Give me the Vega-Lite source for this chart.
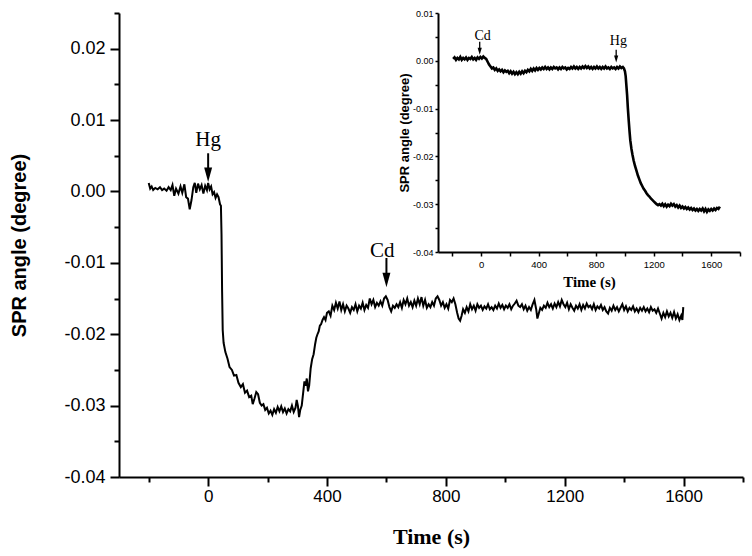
{
  "$schema": "https://vega.github.io/schema/vega-lite/v6.json",
  "width": 624,
  "height": 464,
  "autosize": {"type": "none"},
  "padding": {"left": 119, "top": 13, "right": 9, "bottom": 79},
  "background": "white",
  "config": {"view": {"stroke": null}},
  "datasets": {
    "main": [
      {"t":-200,"v":0.0012},{"t":-195,"v":0.0004},{"t":-190,"v":0.0007},{"t":-185,"v":0.0002},{"t":-178,"v":0.0005},{"t":-170,"v":0.0003},{"t":-162,"v":0.0006},{"t":-155,"v":0.0002},{"t":-148,"v":0.0004},{"t":-140,"v":0.0001},{"t":-133,"v":0.0006},{"t":-126,"v":0.0002},{"t":-120,"v":0.0009},{"t":-114,"v":-0.0006},{"t":-108,"v":0.0004},{"t":-100,"v":-0.0003},{"t":-93,"v":0.0007},{"t":-87,"v":-0.0002},{"t":-80,"v":0.0010},{"t":-74,"v":-0.0008},{"t":-68,"v":-0.0010},{"t":-62,"v":-0.0025},{"t":-56,"v":-0.0012},{"t":-50,"v":0.0006},{"t":-45,"v":0.0012},{"t":-40,"v":-0.0002},{"t":-34,"v":0.0011},{"t":-28,"v":0.0003},{"t":-22,"v":0.0009},{"t":-16,"v":-0.0003},{"t":-10,"v":0.0008},{"t":-4,"v":0.0002},{"t":0,"v":0.0012},{"t":5,"v":0.0003},{"t":10,"v":0.0007},{"t":15,"v":-0.0004},{"t":20,"v":-0.0001},{"t":25,"v":-0.0009},{"t":30,"v":-0.0004},{"t":35,"v":-0.0008},{"t":40,"v":-0.0018},{"t":43,"v":-0.0020},{"t":45,"v":-0.0060},{"t":47,"v":-0.0140},{"t":49,"v":-0.0194},{"t":52,"v":-0.0212},{"t":58,"v":-0.0225},{"t":65,"v":-0.0234},{"t":72,"v":-0.0246},{"t":80,"v":-0.0250},{"t":87,"v":-0.0258},{"t":95,"v":-0.0257},{"t":102,"v":-0.0268},{"t":110,"v":-0.0274},{"t":117,"v":-0.0270},{"t":124,"v":-0.0282},{"t":131,"v":-0.0279},{"t":138,"v":-0.0288},{"t":145,"v":-0.0286},{"t":150,"v":-0.0298},{"t":156,"v":-0.0290},{"t":162,"v":-0.0281},{"t":168,"v":-0.0284},{"t":174,"v":-0.0296},{"t":180,"v":-0.0300},{"t":186,"v":-0.0298},{"t":192,"v":-0.0306},{"t":198,"v":-0.0303},{"t":204,"v":-0.0311},{"t":210,"v":-0.0307},{"t":216,"v":-0.0313},{"t":222,"v":-0.0305},{"t":228,"v":-0.0310},{"t":234,"v":-0.0302},{"t":240,"v":-0.0308},{"t":246,"v":-0.0301},{"t":252,"v":-0.0309},{"t":258,"v":-0.0304},{"t":264,"v":-0.0311},{"t":270,"v":-0.0305},{"t":276,"v":-0.0308},{"t":282,"v":-0.0300},{"t":288,"v":-0.0309},{"t":294,"v":-0.0303},{"t":298,"v":-0.0292},{"t":302,"v":-0.0300},{"t":306,"v":-0.0316},{"t":310,"v":-0.0306},{"t":315,"v":-0.0300},{"t":320,"v":-0.0281},{"t":324,"v":-0.0266},{"t":328,"v":-0.0272},{"t":332,"v":-0.0262},{"t":336,"v":-0.0280},{"t":340,"v":-0.0272},{"t":345,"v":-0.0248},{"t":350,"v":-0.0235},{"t":355,"v":-0.0228},{"t":360,"v":-0.0214},{"t":364,"v":-0.0205},{"t":368,"v":-0.0200},{"t":372,"v":-0.0196},{"t":376,"v":-0.0188},{"t":380,"v":-0.0186},{"t":385,"v":-0.0180},{"t":390,"v":-0.0176},{"t":395,"v":-0.0180},{"t":400,"v":-0.0170},{"t":406,"v":-0.0168},{"t":412,"v":-0.0174},{"t":418,"v":-0.0160},{"t":424,"v":-0.0166},{"t":430,"v":-0.0156},{"t":436,"v":-0.0164},{"t":442,"v":-0.0154},{"t":448,"v":-0.0166},{"t":454,"v":-0.0158},{"t":460,"v":-0.0168},{"t":466,"v":-0.0160},{"t":472,"v":-0.0164},{"t":478,"v":-0.0170},{"t":484,"v":-0.0162},{"t":490,"v":-0.0166},{"t":496,"v":-0.0158},{"t":502,"v":-0.0168},{"t":508,"v":-0.0160},{"t":514,"v":-0.0164},{"t":520,"v":-0.0156},{"t":526,"v":-0.0166},{"t":532,"v":-0.0159},{"t":538,"v":-0.0163},{"t":544,"v":-0.0150},{"t":550,"v":-0.0158},{"t":556,"v":-0.0152},{"t":562,"v":-0.0162},{"t":568,"v":-0.0156},{"t":574,"v":-0.0160},{"t":580,"v":-0.0154},{"t":586,"v":-0.0160},{"t":592,"v":-0.0150},{"t":598,"v":-0.0147},{"t":604,"v":-0.0152},{"t":610,"v":-0.0162},{"t":616,"v":-0.0168},{"t":622,"v":-0.0160},{"t":628,"v":-0.0163},{"t":634,"v":-0.0158},{"t":640,"v":-0.0162},{"t":646,"v":-0.0155},{"t":652,"v":-0.0163},{"t":658,"v":-0.0152},{"t":664,"v":-0.0158},{"t":670,"v":-0.0150},{"t":676,"v":-0.0160},{"t":682,"v":-0.0155},{"t":688,"v":-0.0162},{"t":694,"v":-0.0153},{"t":700,"v":-0.0160},{"t":706,"v":-0.0150},{"t":712,"v":-0.0158},{"t":718,"v":-0.0148},{"t":724,"v":-0.0160},{"t":730,"v":-0.0152},{"t":736,"v":-0.0163},{"t":742,"v":-0.0158},{"t":748,"v":-0.0162},{"t":754,"v":-0.0155},{"t":760,"v":-0.0160},{"t":766,"v":-0.0150},{"t":772,"v":-0.0147},{"t":778,"v":-0.0152},{"t":784,"v":-0.0160},{"t":790,"v":-0.0155},{"t":796,"v":-0.0163},{"t":802,"v":-0.0158},{"t":808,"v":-0.0164},{"t":814,"v":-0.0152},{"t":820,"v":-0.0155},{"t":826,"v":-0.0150},{"t":832,"v":-0.0158},{"t":838,"v":-0.0170},{"t":843,"v":-0.0178},{"t":848,"v":-0.0181},{"t":853,"v":-0.0174},{"t":858,"v":-0.0165},{"t":864,"v":-0.0170},{"t":870,"v":-0.0162},{"t":876,"v":-0.0168},{"t":882,"v":-0.0158},{"t":888,"v":-0.0165},{"t":894,"v":-0.0160},{"t":900,"v":-0.0167},{"t":906,"v":-0.0158},{"t":912,"v":-0.0163},{"t":918,"v":-0.0160},{"t":924,"v":-0.0166},{"t":930,"v":-0.0161},{"t":936,"v":-0.0164},{"t":942,"v":-0.0158},{"t":948,"v":-0.0165},{"t":954,"v":-0.0162},{"t":960,"v":-0.0166},{"t":966,"v":-0.0160},{"t":972,"v":-0.0164},{"t":978,"v":-0.0157},{"t":984,"v":-0.0163},{"t":990,"v":-0.0159},{"t":996,"v":-0.0165},{"t":1002,"v":-0.0160},{"t":1008,"v":-0.0163},{"t":1014,"v":-0.0158},{"t":1020,"v":-0.0165},{"t":1026,"v":-0.0160},{"t":1032,"v":-0.0157},{"t":1038,"v":-0.0153},{"t":1044,"v":-0.0160},{"t":1050,"v":-0.0162},{"t":1056,"v":-0.0158},{"t":1062,"v":-0.0165},{"t":1068,"v":-0.0160},{"t":1074,"v":-0.0167},{"t":1080,"v":-0.0162},{"t":1086,"v":-0.0166},{"t":1092,"v":-0.0158},{"t":1098,"v":-0.0152},{"t":1104,"v":-0.0165},{"t":1108,"v":-0.0178},{"t":1112,"v":-0.0172},{"t":1118,"v":-0.0163},{"t":1124,"v":-0.0166},{"t":1130,"v":-0.0160},{"t":1136,"v":-0.0163},{"t":1142,"v":-0.0156},{"t":1148,"v":-0.0162},{"t":1154,"v":-0.0158},{"t":1160,"v":-0.0164},{"t":1166,"v":-0.0157},{"t":1172,"v":-0.0162},{"t":1178,"v":-0.0155},{"t":1184,"v":-0.0161},{"t":1190,"v":-0.0152},{"t":1196,"v":-0.0158},{"t":1202,"v":-0.0162},{"t":1208,"v":-0.0156},{"t":1214,"v":-0.0165},{"t":1220,"v":-0.0158},{"t":1226,"v":-0.0163},{"t":1232,"v":-0.0167},{"t":1238,"v":-0.0160},{"t":1244,"v":-0.0164},{"t":1250,"v":-0.0158},{"t":1256,"v":-0.0166},{"t":1262,"v":-0.0159},{"t":1268,"v":-0.0164},{"t":1274,"v":-0.0157},{"t":1280,"v":-0.0162},{"t":1286,"v":-0.0160},{"t":1292,"v":-0.0165},{"t":1298,"v":-0.0158},{"t":1304,"v":-0.0166},{"t":1310,"v":-0.0161},{"t":1316,"v":-0.0164},{"t":1322,"v":-0.0159},{"t":1328,"v":-0.0166},{"t":1334,"v":-0.0162},{"t":1340,"v":-0.0168},{"t":1346,"v":-0.0171},{"t":1352,"v":-0.0163},{"t":1358,"v":-0.0167},{"t":1364,"v":-0.0160},{"t":1370,"v":-0.0166},{"t":1376,"v":-0.0162},{"t":1382,"v":-0.0168},{"t":1388,"v":-0.0163},{"t":1394,"v":-0.0158},{"t":1400,"v":-0.0166},{"t":1406,"v":-0.0161},{"t":1412,"v":-0.0168},{"t":1418,"v":-0.0163},{"t":1424,"v":-0.0166},{"t":1430,"v":-0.0161},{"t":1436,"v":-0.0168},{"t":1442,"v":-0.0164},{"t":1448,"v":-0.0169},{"t":1454,"v":-0.0163},{"t":1460,"v":-0.0167},{"t":1466,"v":-0.0162},{"t":1472,"v":-0.0168},{"t":1478,"v":-0.0164},{"t":1484,"v":-0.0169},{"t":1490,"v":-0.0162},{"t":1496,"v":-0.0167},{"t":1502,"v":-0.0165},{"t":1508,"v":-0.0170},{"t":1514,"v":-0.0164},{"t":1520,"v":-0.0171},{"t":1526,"v":-0.0178},{"t":1532,"v":-0.0170},{"t":1538,"v":-0.0176},{"t":1544,"v":-0.0168},{"t":1550,"v":-0.0175},{"t":1556,"v":-0.0170},{"t":1562,"v":-0.0177},{"t":1568,"v":-0.0169},{"t":1574,"v":-0.0178},{"t":1580,"v":-0.0172},{"t":1586,"v":-0.0180},{"t":1592,"v":-0.0174},{"t":1596,"v":-0.0180},{"t":1599,"v":-0.0162}
    ],
    "inset": [
      {"t":-195,"v":0.0004},{"t":-185,"v":0.0007},{"t":-175,"v":0.0002},{"t":-165,"v":0.0006},{"t":-155,"v":0.0003},{"t":-145,"v":0.0008},{"t":-135,"v":0.0002},{"t":-125,"v":0.0006},{"t":-115,"v":0.0003},{"t":-105,"v":0.0007},{"t":-95,"v":0.0002},{"t":-85,"v":0.0006},{"t":-75,"v":0.0004},{"t":-65,"v":0.0008},{"t":-55,"v":0.0003},{"t":-45,"v":0.0006},{"t":-35,"v":0.0002},{"t":-25,"v":0.0007},{"t":-15,"v":0.0004},{"t":-5,"v":0.0008},{"t":5,"v":0.0005},{"t":15,"v":0.0009},{"t":25,"v":0.0006},{"t":35,"v":0.0004},{"t":45,"v":-0.0002},{"t":55,"v":-0.0008},{"t":65,"v":-0.0012},{"t":75,"v":-0.0016},{"t":85,"v":-0.0014},{"t":95,"v":-0.0019},{"t":105,"v":-0.0016},{"t":115,"v":-0.0021},{"t":125,"v":-0.0018},{"t":135,"v":-0.0022},{"t":145,"v":-0.0019},{"t":155,"v":-0.0024},{"t":165,"v":-0.0020},{"t":175,"v":-0.0023},{"t":185,"v":-0.0021},{"t":195,"v":-0.0026},{"t":205,"v":-0.0022},{"t":215,"v":-0.0027},{"t":225,"v":-0.0023},{"t":235,"v":-0.0028},{"t":245,"v":-0.0024},{"t":255,"v":-0.0028},{"t":265,"v":-0.0023},{"t":275,"v":-0.0027},{"t":285,"v":-0.0022},{"t":295,"v":-0.0026},{"t":305,"v":-0.0021},{"t":315,"v":-0.0024},{"t":325,"v":-0.0019},{"t":335,"v":-0.0022},{"t":345,"v":-0.0017},{"t":355,"v":-0.0021},{"t":365,"v":-0.0016},{"t":375,"v":-0.0020},{"t":385,"v":-0.0015},{"t":395,"v":-0.0019},{"t":405,"v":-0.0015},{"t":415,"v":-0.0018},{"t":425,"v":-0.0014},{"t":435,"v":-0.0017},{"t":445,"v":-0.0013},{"t":455,"v":-0.0017},{"t":465,"v":-0.0014},{"t":475,"v":-0.0018},{"t":485,"v":-0.0014},{"t":495,"v":-0.0017},{"t":505,"v":-0.0013},{"t":515,"v":-0.0016},{"t":525,"v":-0.0014},{"t":535,"v":-0.0018},{"t":545,"v":-0.0014},{"t":555,"v":-0.0017},{"t":565,"v":-0.0013},{"t":575,"v":-0.0016},{"t":585,"v":-0.0014},{"t":595,"v":-0.0018},{"t":605,"v":-0.0015},{"t":615,"v":-0.0017},{"t":625,"v":-0.0013},{"t":635,"v":-0.0016},{"t":645,"v":-0.0012},{"t":655,"v":-0.0016},{"t":665,"v":-0.0013},{"t":675,"v":-0.0017},{"t":685,"v":-0.0013},{"t":695,"v":-0.0016},{"t":705,"v":-0.0012},{"t":715,"v":-0.0015},{"t":725,"v":-0.0011},{"t":735,"v":-0.0015},{"t":745,"v":-0.0012},{"t":755,"v":-0.0016},{"t":765,"v":-0.0013},{"t":775,"v":-0.0017},{"t":785,"v":-0.0013},{"t":795,"v":-0.0016},{"t":805,"v":-0.0012},{"t":815,"v":-0.0016},{"t":825,"v":-0.0013},{"t":835,"v":-0.0017},{"t":845,"v":-0.0013},{"t":855,"v":-0.0016},{"t":865,"v":-0.0012},{"t":875,"v":-0.0016},{"t":885,"v":-0.0014},{"t":895,"v":-0.0017},{"t":905,"v":-0.0013},{"t":915,"v":-0.0016},{"t":925,"v":-0.0014},{"t":935,"v":-0.0017},{"t":945,"v":-0.0013},{"t":955,"v":-0.0016},{"t":965,"v":-0.0012},{"t":975,"v":-0.0015},{"t":985,"v":-0.0013},{"t":993,"v":-0.0016},{"t":1000,"v":-0.0022},{"t":1005,"v":-0.0032},{"t":1010,"v":-0.0052},{"t":1015,"v":-0.0072},{"t":1020,"v":-0.0098},{"t":1026,"v":-0.0124},{"t":1032,"v":-0.0148},{"t":1037,"v":-0.0166},{"t":1045,"v":-0.0184},{"t":1052,"v":-0.0196},{"t":1060,"v":-0.0208},{"t":1070,"v":-0.0220},{"t":1080,"v":-0.0230},{"t":1090,"v":-0.0240},{"t":1100,"v":-0.0248},{"t":1110,"v":-0.0256},{"t":1120,"v":-0.0262},{"t":1130,"v":-0.0268},{"t":1140,"v":-0.0272},{"t":1150,"v":-0.0277},{"t":1160,"v":-0.0281},{"t":1170,"v":-0.0284},{"t":1180,"v":-0.0288},{"t":1190,"v":-0.0291},{"t":1200,"v":-0.0294},{"t":1210,"v":-0.0297},{"t":1220,"v":-0.0300},{"t":1230,"v":-0.0302},{"t":1240,"v":-0.0300},{"t":1250,"v":-0.0303},{"t":1260,"v":-0.0299},{"t":1270,"v":-0.0304},{"t":1280,"v":-0.0300},{"t":1290,"v":-0.0305},{"t":1300,"v":-0.0301},{"t":1310,"v":-0.0304},{"t":1320,"v":-0.0299},{"t":1330,"v":-0.0303},{"t":1340,"v":-0.0300},{"t":1350,"v":-0.0305},{"t":1360,"v":-0.0302},{"t":1370,"v":-0.0307},{"t":1380,"v":-0.0303},{"t":1390,"v":-0.0308},{"t":1400,"v":-0.0305},{"t":1410,"v":-0.0309},{"t":1420,"v":-0.0306},{"t":1430,"v":-0.0310},{"t":1440,"v":-0.0307},{"t":1450,"v":-0.0311},{"t":1460,"v":-0.0308},{"t":1470,"v":-0.0312},{"t":1480,"v":-0.0309},{"t":1490,"v":-0.0313},{"t":1500,"v":-0.0310},{"t":1510,"v":-0.0314},{"t":1520,"v":-0.0310},{"t":1530,"v":-0.0313},{"t":1540,"v":-0.0309},{"t":1550,"v":-0.0315},{"t":1560,"v":-0.0310},{"t":1570,"v":-0.0316},{"t":1580,"v":-0.0311},{"t":1590,"v":-0.0314},{"t":1600,"v":-0.0310},{"t":1610,"v":-0.0313},{"t":1620,"v":-0.0309},{"t":1630,"v":-0.0312},{"t":1640,"v":-0.0308},{"t":1650,"v":-0.0310},{"t":1660,"v":-0.0305}
    ],
    "mainArrows": [{"t":0,"v":0.00535,"v2":0.0027},{"t":600,"v":-0.00932,"v2":-0.0120}],
    "mainHeads": [{"t":0,"v":0.00235},{"t":600,"v":-0.01239}],
    "mainTexts": [{"t":0,"v":0.00633,"label":"Hg"},{"t":586,"v":-0.00918,"label":"Cd"}],
    "insetArrows": [{"t":-10,"v":0.0040,"v2":0.0025},{"t":939,"v":0.0023,"v2":0.0010}],
    "insetHeads": [{"t":-10,"v":0.0020},{"t":939,"v":0.0004}],
    "insetTexts": [{"t":10,"v":0.0044,"label":"Cd"},{"t":954,"v":0.0034,"label":"Hg"}]
  },
  "layer": [
    {
      "encoding": {
        "x": {"field": "t", "type": "quantitative",
          "scale": {"domain": [-300, 1800], "nice": false, "zero": false},
          "axis": {"orient": "bottom", "values": [-200,0,200,400,600,800,1000,1200,1400,1600,1800], "format": "d",
            "labelExpr": "datum.value % 400 === 0 ? datum.label : ''",
            "tickSize": {"condition": {"test": "datum.value % 400 === 0", "value": 9}, "value": 5},
            "tickWidth": 2, "domainWidth": 2, "domainColor": "black", "tickColor": "black",
            "labelFont": "Liberation Sans", "labelFontSize": 17, "labelColor": "black", "labelPadding": 2,
            "grid": false, "title": "Time (s)", "titleFont": "Liberation Serif", "titleFontSize": 22,
            "titleFontWeight": "bold", "titleColor": "black", "titlePadding": 22}},
        "y": {"field": "v", "type": "quantitative",
          "scale": {"domain": [-0.04, 0.025], "nice": false, "zero": false},
          "axis": {"orient": "left", "values": [-0.04,-0.035,-0.03,-0.025,-0.02,-0.015,-0.01,-0.005,0,0.005,0.01,0.015,0.02,0.025],
            "labelExpr": "abs(datum.value*100 - round(datum.value*100)) < 0.01 ? replace(format(datum.value, '.2f'), '\u2212', '-') : ''",
            "tickSize": {"condition": {"test": "abs(datum.value*100 - round(datum.value*100)) < 0.01", "value": 9}, "value": 5},
            "tickWidth": 2, "domainWidth": 2, "domainColor": "black", "tickColor": "black",
            "labelFont": "Liberation Sans", "labelFontSize": 18, "labelColor": "black", "labelPadding": 5,
            "grid": false, "title": "SPR angle (degree)", "titleFont": "Liberation Sans", "titleFontSize": 20,
            "titleFontWeight": "bold", "titleColor": "black", "titlePadding": 34}}
      },
      "layer": [
        {"data": {"name": "main"}, "mark": {"type": "line", "color": "black", "strokeWidth": 2}},
        {"data": {"name": "mainArrows"}, "mark": {"type": "rule", "color": "black", "strokeWidth": 2}, "encoding": {"y2": {"field": "v2"}}},
        {"data": {"name": "mainHeads"}, "mark": {"type": "point", "shape": "M-0.55,-1L0.55,-1L0,1Z", "size": 210, "filled": true, "color": "black", "opacity": 1}},
        {"data": {"name": "mainTexts"}, "mark": {"type": "text", "font": "Liberation Serif", "fontSize": 21, "baseline": "alphabetic", "align": "center", "color": "black"}, "encoding": {"text": {"field": "label"}}}
      ]
    },
    {
      "encoding": {
        "x": {"field": "t", "type": "quantitative",
          "scale": {"domain": [-300, 1800], "nice": false, "zero": false, "range": [319, 621]},
          "axis": {"orient": "bottom", "offset": -225, "values": [-200,0,200,400,600,800,1000,1200,1400,1600,1800], "format": "d",
            "labelExpr": "datum.value % 400 === 0 ? datum.label : ''",
            "tickSize": 4, "tickWidth": 1.5, "domainWidth": 2, "domainColor": "black", "tickColor": "black",
            "labelFont": "Liberation Sans", "labelFontSize": 9.5, "labelColor": "black", "labelPadding": 3,
            "grid": false, "title": "Time (s)", "titleFont": "Liberation Serif", "titleFontSize": 15,
            "titleFontWeight": "bold", "titleColor": "black", "titlePadding": 6}},
        "y": {"field": "v", "type": "quantitative",
          "scale": {"domain": [-0.04, 0.01], "nice": false, "zero": false, "range": [239, 0]},
          "axis": {"orient": "left", "offset": -319, "values": [-0.04,-0.035,-0.03,-0.025,-0.02,-0.015,-0.01,-0.005,0,0.005,0.01],
            "labelExpr": "abs(datum.value*100 - round(datum.value*100)) < 0.01 ? replace(format(datum.value, '.2f'), '\u2212', '-') : ''",
            "tickSize": 3, "tickWidth": 1.5, "domainWidth": 2, "domainColor": "black", "tickColor": "black",
            "labelFont": "Liberation Sans", "labelFontSize": 9, "labelColor": "black", "labelPadding": 2,
            "grid": false, "title": "SPR angle (degree)", "titleFont": "Liberation Sans", "titleFontSize": 13,
            "titleFontWeight": "bold", "titleColor": "black", "titlePadding": 1}}
      },
      "layer": [
        {"data": {"name": "inset"}, "mark": {"type": "line", "color": "black", "strokeWidth": 2.6}},
        {"data": {"name": "insetArrows"}, "mark": {"type": "rule", "color": "black", "strokeWidth": 1.3}, "encoding": {"y2": {"field": "v2"}}},
        {"data": {"name": "insetHeads"}, "mark": {"type": "point", "shape": "M-0.6,-1L0.6,-1L0,1Z", "size": 49, "filled": true, "color": "black", "opacity": 1}},
        {"data": {"name": "insetTexts"}, "mark": {"type": "text", "font": "Liberation Serif", "fontSize": 14, "baseline": "alphabetic", "align": "center", "color": "black"}, "encoding": {"text": {"field": "label"}}}
      ]
    }
  ],
  "resolve": {"scale": {"x": "independent", "y": "independent"}, "axis": {"x": "independent", "y": "independent"}}
}
